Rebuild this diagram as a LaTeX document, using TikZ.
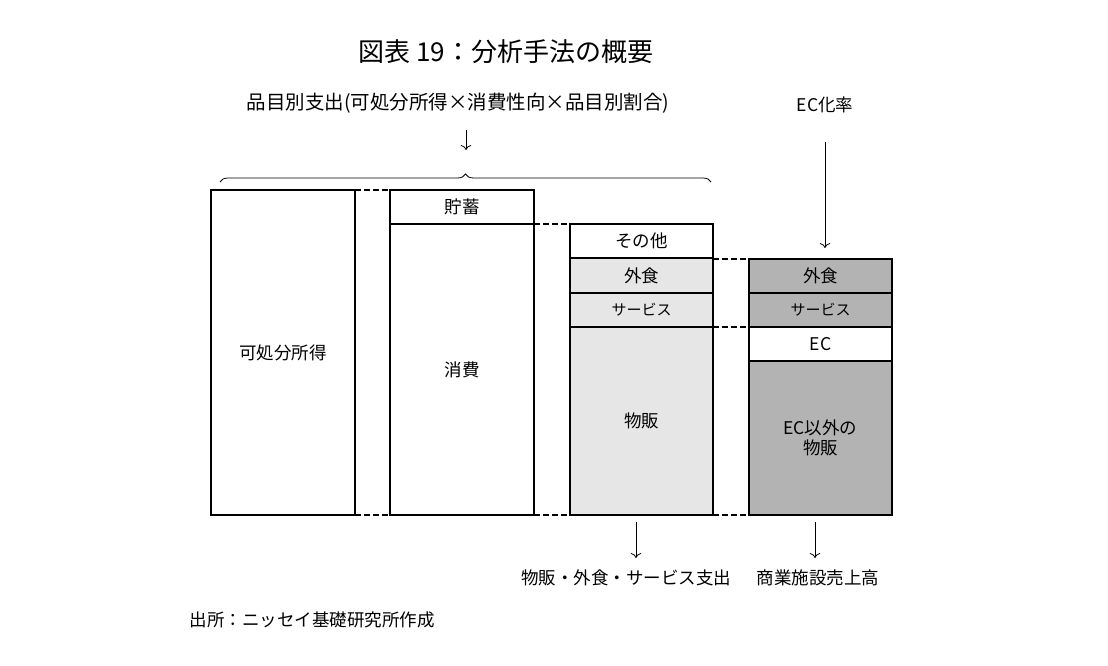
\documentclass[tikz,border=0pt]{standalone}
\usepackage{fontspec}
\setmainfont{Noto Sans CJK JP}
\usetikzlibrary{decorations.pathreplacing,arrows.meta}
\definecolor{lg}{HTML}{E6E6E6}
\definecolor{dg}{HTML}{B3B3B3}
\begin{document}
\begin{tikzpicture}[x=1pt,y=-1pt,
  bx/.style={draw,line width=1.8pt},
  dl/.style={line width=1.8pt,dash pattern=on 6pt off 3pt},
  ar/.style={-{To[length=5pt]},line width=0.8pt},
  lb/.style={font=\fontsize{17.5}{20}\selectfont}]
\useasboundingbox (0,0) rectangle (1108,666);
\node[font=\fontsize{26}{28}\selectfont] (title) at (506,52) {図表 19：分析手法の概要};
\draw[bx] (211,190) rectangle node[lb]{可処分所得} (355,515);
\draw[bx] (390,190) rectangle node[lb]{貯蓄} (534,224);
\draw[bx] (390,224) rectangle node[lb]{消費} (534,515);
\draw[bx] (570,224) rectangle node[lb]{その他} (713,258);
\draw[bx,fill=lg] (570,258) rectangle node[lb]{外食} (713,293);
\draw[bx,fill=lg] (570,293) rectangle node[font=\fontsize{15}{17}\selectfont]{サービス} (713,327);
\draw[bx,fill=lg] (570,327) rectangle node[lb]{物販} (713,515);
\draw[bx,fill=dg] (749,259) rectangle node[lb]{外食} (892,293);
\draw[bx,fill=dg] (749,293) rectangle node[font=\fontsize{15}{17}\selectfont]{サービス} (892,327);
\draw[bx] (749,327) rectangle node[lb]{EC} (892,361);
\draw[bx,fill=dg] (749,361) rectangle node[lb,align=center]{EC以外の\\物販} (892,515);
\foreach \a/\b/\y in {355/390/190,355/390/515,534/570/224,534/570/515,713/749/259,713/749/327,713/749/515}
  \draw[dl] (\a,\y) -- (\b,\y);
\node[font=\fontsize{19.5}{22}\selectfont] (top) at (458,103) {品目別支出(可処分所得×消費性向×品目別割合)};
\coordinate (ta) at (466,150);
\draw[ar] (466,130) -- (ta);
\draw[decorate,decoration={brace,amplitude=8pt},line width=0.8pt] (220,182) -- (711,182);
\node[lb] (ec) at (825,105) {EC化率};
\coordinate (ea) at (825,248);
\draw[ar] (825,142) -- (ea);
\coordinate (b1) at (636,558);
\coordinate (b2) at (815,558);
\draw[ar] (636,522) -- (b1);
\draw[ar] (815,522) -- (b2);
\node[lb] (l1) at (626,578) {物販・外食・サービス支出};
\node[lb] (l2) at (818,578) {商業施設売上高};
\node[font=\fontsize{17.5}{19}\selectfont,anchor=west] (src) at (186,620) {出所：ニッセイ基礎研究所作成};
\end{tikzpicture}
\end{document}
